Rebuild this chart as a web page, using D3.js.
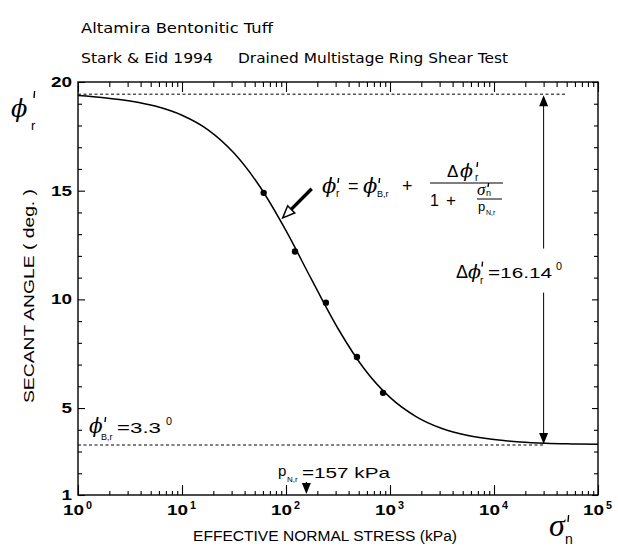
<!DOCTYPE html>
<html><head><meta charset="utf-8">
<script src="https://cdn.jsdelivr.net/npm/d3@7"></script>
<style>body{margin:0;background:#fff} svg{display:block}</style>
</head><body>
<svg id="c" width="618" height="549"></svg>
<script>
// ---- data ----
const titleText = "Altamira Bentonitic Tuff";
const sourceText = "Stark & Eid 1994";
const testText = "Drained Multistage Ring Shear Test";
const xTitle = "EFFECTIVE NORMAL STRESS (kPa)";
const yTitle = "SECANT ANGLE  ( deg. )";
const xDecades = [1, 10, 100, 1000, 10000, 100000];
const xExponents = ["0", "1", "2", "3", "4", "5"];
const yMajorTicks = [1, 5, 10, 15, 20];
const yTickLabels = ["1", "5", "10", "15", "20"];
const testStress = [61, 122, 242, 481, 857];
const testAngle = [14.9, 12.2, 9.85, 7.35, 5.7];
const fitStress = [1, 1.78, 3.16, 5.62, 10, 17.8, 31.6, 56.2, 100, 178, 316, 562, 1000, 1780, 3160, 5620, 10000, 17800, 31600, 56200, 100000];
const fitAngle = [19.38, 19.28, 19.13, 18.88, 18.47, 17.80, 16.73, 15.18, 13.16, 10.87, 8.66, 6.82, 5.49, 4.61, 4.06, 3.74, 3.55, 3.44, 3.38, 3.35, 3.33];
const phiB = 3.3;
const phiTop = 19.44;
const deltaLabel = "=16.14";
const phiBLabel = "=3.3";
const pLabel = "=157 kPa";
const pNr = 157;
const deltaArrowStress = 30000;
const topDashEnd = 50000;
const pointerStress = 93, pointerAngle = 13.75;

// ---- scales ----
const svg = d3.select("#c");
const L = 78, R = 598, T = 82, B = 495;
const x = d3.scaleLog().domain([1, 1e5]).range([L, R]);
const y = d3.scaleLinear().domain([1, 20]).range([B, T]);
const SANS = "'Liberation Sans', Arial, sans-serif";
const PHI = "\u03D5";

function txt(px, py, s, o = {}) {
  const t = svg.append("text").attr("x", px).attr("y", py).text(s)
    .attr("font-family", o.family || SANS)
    .attr("font-size", o.size || 14)
    .attr("fill", "#000");
  if (o.weight) t.attr("font-weight", o.weight);
  if (o.italic) t.attr("font-style", "italic");
  if (o.anchor) t.attr("text-anchor", o.anchor);
  if (o.len) t.attr("textLength", o.len).attr("lengthAdjust", "spacingAndGlyphs");
  return t;
}
function phi(px, py, size) {
  return txt(px, py, PHI, {family: "'DejaVu Serif', 'Liberation Serif', serif", italic: true, size: size});
}
function prime(px, py, h) {
  svg.append("line").attr("x1", px + 0.6).attr("x2", px).attr("y1", py).attr("y2", py + h)
    .attr("stroke", "#000").attr("stroke-width", 1.4);
}

// ---- titles ----
txt(81, 33, titleText, {family: "'DejaVu Sans', sans-serif", size: 14.5, len: 192});
txt(81, 63, sourceText, {family: "'DejaVu Sans', sans-serif", size: 14.5, len: 132});
txt(238, 63, testText, {family: "'DejaVu Sans', sans-serif", size: 14.5, len: 270});

// ---- axes (inward ticks) ----
const minorX = [];
xDecades.slice(0, -1).forEach(d => { for (let k = 2; k <= 9; k++) minorX.push(d * k); });
const minorY = d3.range(2, 20).filter(v => v % 5 !== 0);

function axisG(axis, tx, ty) {
  const g = svg.append("g").attr("transform", `translate(${tx},${ty})`).call(axis);
  g.select(".domain").remove();
  g.selectAll(".tick line").attr("stroke", "#000").attr("stroke-width", 1.1);
  return g;
}
axisG(d3.axisBottom(x).tickValues(minorX).tickSize(-4).tickFormat(""), 0, B);
axisG(d3.axisBottom(x).tickValues(xDecades).tickSize(-10).tickFormat(""), 0, B);
axisG(d3.axisTop(x).tickValues(minorX).tickSize(-5).tickFormat(""), 0, T);
axisG(d3.axisTop(x).tickValues(xDecades).tickSize(-10).tickFormat(""), 0, T);
axisG(d3.axisLeft(y).tickValues(minorY).tickSize(-4).tickFormat(""), L, 0);
const yl = axisG(d3.axisLeft(y).tickValues(yMajorTicks).tickSize(-7).tickPadding(6)
  .tickFormat((d, i) => yTickLabels[i]), L, 0);
yl.selectAll(".tick text").attr("font-family", SANS).attr("font-weight", "bold")
  .attr("font-size", 14).attr("fill", "#000")
  .attr("textLength", function () { return this.textContent.length * 10.5; })
  .attr("lengthAdjust", "spacingAndGlyphs");
axisG(d3.axisRight(y).tickValues(minorY).tickSize(-4).tickFormat(""), R, 0);
axisG(d3.axisRight(y).tickValues(yMajorTicks).tickSize(-6).tickFormat(""), R, 0);

// frame
svg.append("rect").attr("x", L).attr("y", T).attr("width", R - L).attr("height", B - T)
  .attr("fill", "none").attr("stroke", "#000").attr("stroke-width", 1.4);

// x tick labels 10^n
xDecades.forEach((d, i) => {
  const cx = x(d);
  txt(cx - 15, 515, "10", {weight: "bold", size: 14, len: 21});
  txt(cx + 8, 509, xExponents[i], {weight: "bold", size: 10, len: 6});
});

// axis titles
txt(193, 541, xTitle, {size: 15.5, len: 264});
svg.append("text").attr("transform", "translate(34,296) rotate(-90)")
  .attr("text-anchor", "middle").attr("font-family", SANS).attr("font-size", 15)
  .attr("textLength", 214).attr("lengthAdjust", "spacingAndGlyphs").text(yTitle);

// y symbol phi'_r
phi(11, 117, 24);
prime(34, 91, 7);
txt(31, 130, "r", {size: 13});
// x symbol sigma'_n
txt(549, 536, "\u03C3", {family: "'Liberation Serif', serif", italic: true, size: 32});
prime(568, 515, 7);
txt(565, 544, "n", {size: 14});

// ---- dashed reference lines ----
svg.append("line").attr("x1", x(1)).attr("x2", x(topDashEnd)).attr("y1", y(phiTop)).attr("y2", y(phiTop))
  .attr("stroke", "#000").attr("stroke-width", 1).attr("stroke-dasharray", "3,2.5");
svg.append("line").attr("x1", x(1)).attr("x2", x(deltaArrowStress)).attr("y1", y(phiB)).attr("y2", y(phiB))
  .attr("stroke", "#000").attr("stroke-width", 1).attr("stroke-dasharray", "3,2.5");

// ---- fitted curve ----
const line = d3.line().x(d => x(d[0])).y(d => y(d[1])).curve(d3.curveMonotoneX);
svg.append("path").datum(fitStress.map((s, i) => [s, fitAngle[i]]))
  .attr("d", line).attr("fill", "none").attr("stroke", "#000").attr("stroke-width", 1.5);

// ---- test points ----
svg.selectAll("circle.pt").data(testStress.map((s, i) => [s, testAngle[i]])).join("circle")
  .attr("class", "pt").attr("cx", d => x(d[0])).attr("cy", d => y(d[1])).attr("r", 3.2).attr("fill", "#000");

// ---- delta phi double arrow ----
const ax = x(deltaArrowStress), yTop = y(phiTop), yBot = y(phiB);
const midY = (yTop + yBot) / 2;
function headV(px, tipY, dir) { // dir -1 up, +1 down
  svg.append("path").attr("d", `M${px},${tipY} L${px - 4.5},${tipY - dir * 11} L${px + 4.5},${tipY - dir * 11} Z`).attr("fill", "#000");
}
svg.append("line").attr("x1", ax).attr("x2", ax).attr("y1", yTop + 8).attr("y2", midY - 21).attr("stroke", "#000").attr("stroke-width", 1);
svg.append("line").attr("x1", ax).attr("x2", ax).attr("y1", midY + 23).attr("y2", yBot - 8).attr("stroke", "#000").attr("stroke-width", 1);
headV(ax, yTop + 1, -1);
headV(ax, yBot - 1, 1);
// label Δφ'r = 16.14^0
const lb = midY + 8;
txt(456, lb, "\u0394", {size: 18});
phi(468, lb, 19);
prime(482, lb - 16, 5);
txt(480, lb + 6, "r", {size: 10});
txt(488, lb, deltaLabel, {size: 15, len: 64});
txt(556, lb - 8, "0", {size: 10, len: 6});

// ---- phi_B,r label ----
const bY = y(phiB) - 12;
phi(89, bY, 20);
prime(105, bY - 16, 5);
txt(101, bY + 7, "B,r", {size: 9});
txt(117, bY, phiBLabel, {size: 15, len: 44});
txt(166, bY - 8, "0", {size: 10, len: 6});

// ---- p_N,r label and arrow ----
const px0 = x(pNr);
txt(278, 476, "p", {size: 15});
txt(287, 482, "N,r", {size: 8});
txt(302, 478, pLabel, {size: 15, len: 88});
svg.append("line").attr("x1", px0).attr("x2", px0).attr("y1", 482).attr("y2", B - 8).attr("stroke", "#000").attr("stroke-width", 1.2);
headV(px0, B - 1, 1);

// ---- equation ----
const eqB = 193;
phi(322, eqB, 21); prime(338, eqB - 15, 5); txt(336, eqB + 4, "r", {size: 10});
txt(348, eqB - 1, "=", {size: 18});
phi(363, eqB, 21); prime(379, eqB - 15, 5); txt(377, eqB + 4, "B,r", {size: 9});
txt(402, eqB - 1, "+", {size: 18});
txt(447, 177, "\u0394", {size: 17});
phi(460, 177, 19); prime(477, 162, 5); txt(475, 181, "r", {size: 10});
svg.append("line").attr("x1", 430).attr("x2", 503).attr("y1", 183).attr("y2", 183).attr("stroke", "#000").attr("stroke-width", 1);
txt(430, 206, "1", {size: 16});
txt(446, 206, "+", {size: 17});
txt(477, 195, "\u03C3", {family: "'Liberation Serif', serif", italic: true, size: 17});
prime(488, 183, 4);
txt(486, 196, "n", {size: 9});
svg.append("line").attr("x1", 477).attr("x2", 502).attr("y1", 199).attr("y2", 199).attr("stroke", "#000").attr("stroke-width", 1);
txt(478, 211, "p", {size: 13});
txt(486, 215, "N,r", {size: 7});

// ---- pointer arrow to curve ----
const tip = [x(pointerStress), y(pointerAngle)];
const tail = [tip[0] + 29, tip[1] - 29];
const dx = tip[0] - tail[0], dy = tip[1] - tail[1], dl = Math.hypot(dx, dy);
const ux = dx / dl, uy = dy / dl;
const base = [tip[0] - ux * 12, tip[1] - uy * 12];
svg.append("line").attr("x1", tail[0]).attr("y1", tail[1]).attr("x2", base[0]).attr("y2", base[1])
  .attr("stroke", "#000").attr("stroke-width", 3.5);
svg.append("path").attr("d", `M${tip[0]},${tip[1]} L${base[0] - uy * 5},${base[1] + ux * 5} L${base[0] + uy * 5},${base[1] - ux * 5} Z`)
  .attr("fill", "#fff").attr("stroke", "#000").attr("stroke-width", 1.5);
</script>
</body></html>
